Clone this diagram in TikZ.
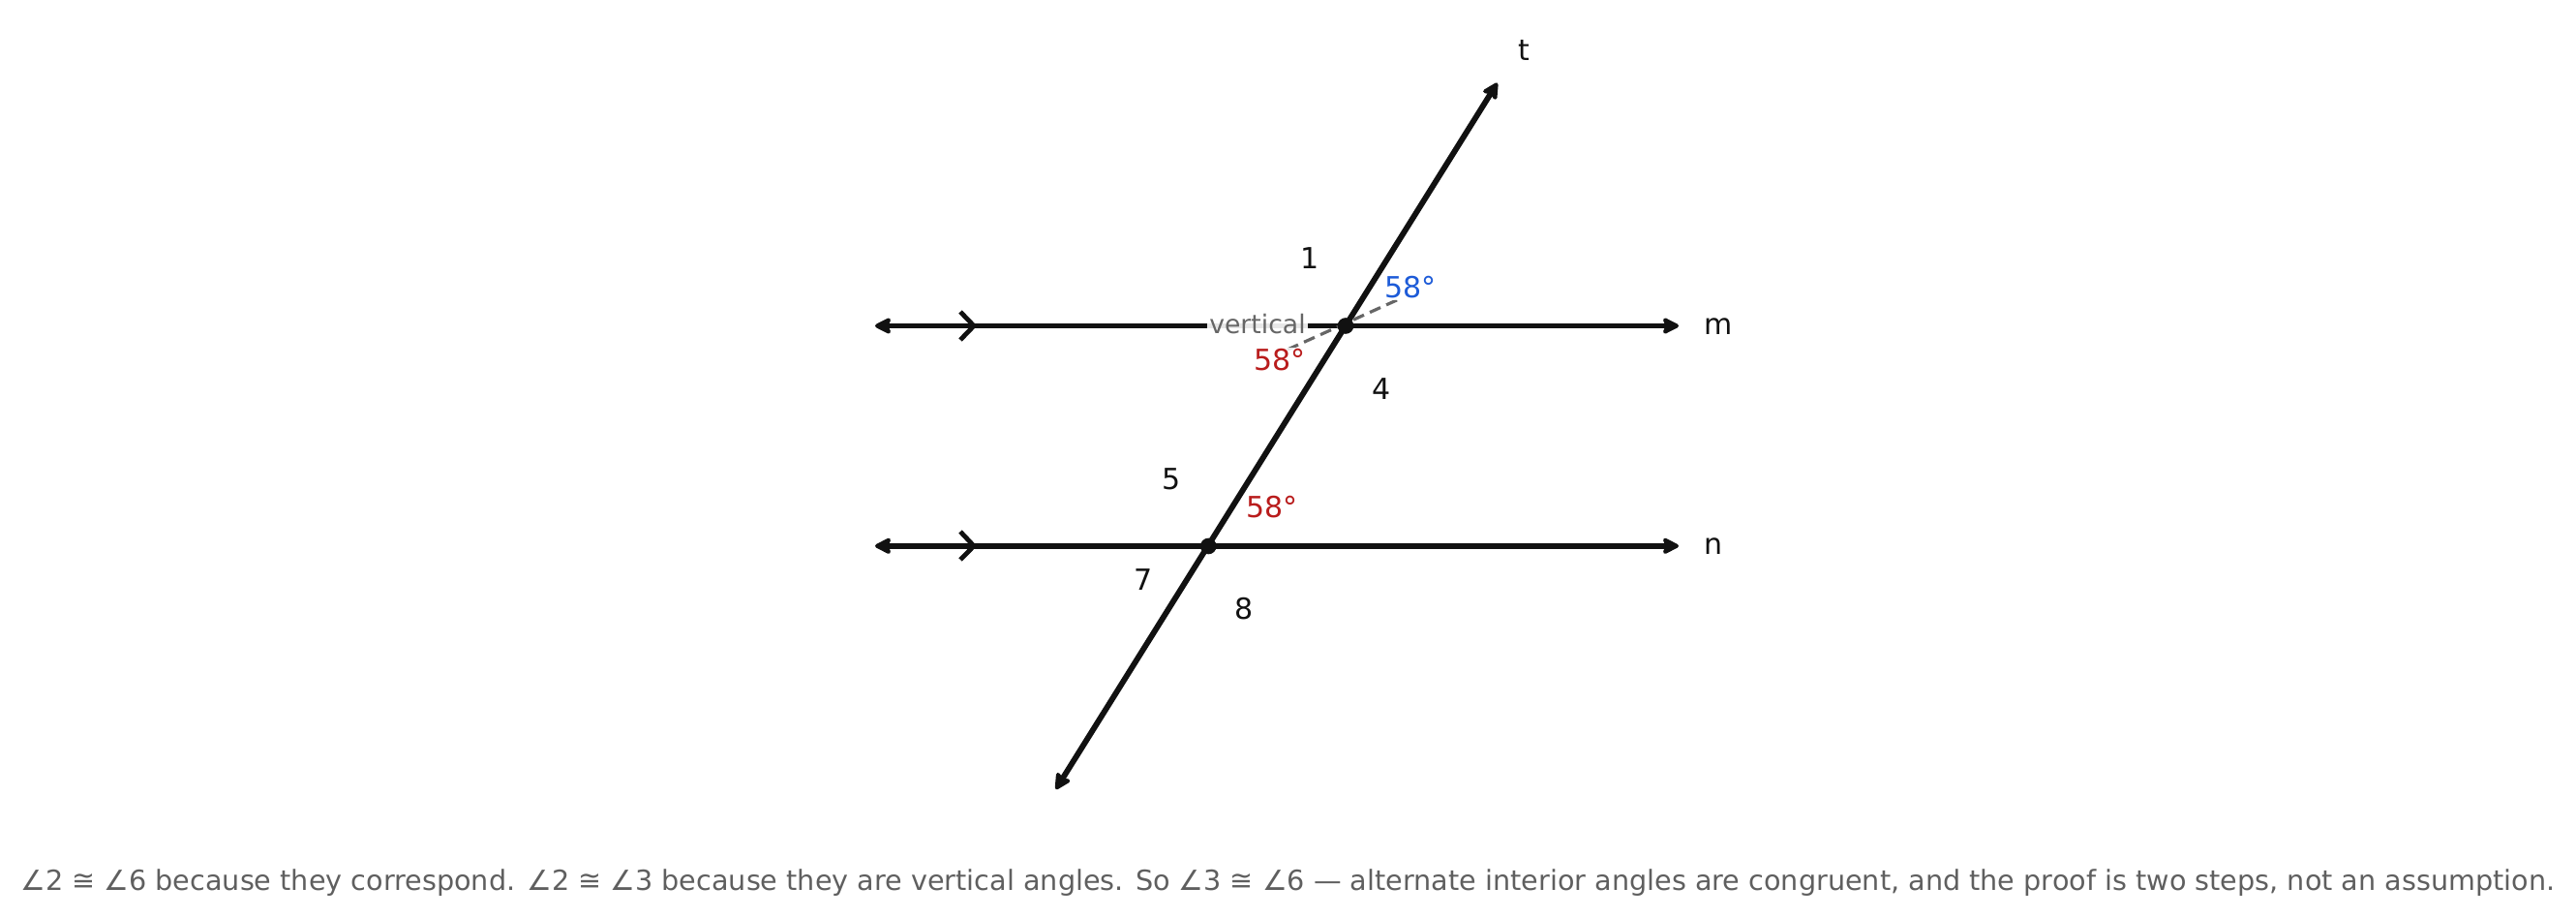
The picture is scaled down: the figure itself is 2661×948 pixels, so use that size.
\documentclass[tikz,border=0pt]{standalone}
\usepackage{fontspec}
\setmainfont{DejaVu Sans}
\usetikzlibrary{arrows.meta}
\definecolor{ink}{HTML}{111111}
\definecolor{capgray}{HTML}{5F5F5F}
\definecolor{vgray}{HTML}{666666}
\definecolor{angred}{HTML}{B91C1C}
\definecolor{angblue}{HTML}{1D5BD8}
\tikzset{
  ray/.style={draw=ink, line width=4.4pt, {Stealth[length=15pt,width=15pt,inset=3pt,round]}-{Stealth[length=15pt,width=15pt,inset=3pt,round]}},
  chev/.style={draw=ink, line width=3.6pt},
  numlab/.style={text=ink, font=\fontsize{22.5pt}{27pt}\selectfont, inner sep=1pt},
  anglab/.style={font=\fontsize{22.5pt}{27pt}\selectfont, inner sep=1.5pt, fill=white, fill opacity=0.85, text opacity=1},
  vlab/.style={text=vgray, font=\fontsize{20pt}{24pt}\selectfont, inner sep=2pt, fill=white, fill opacity=0.9, text opacity=1},
  dot/.style={circle, fill=ink, inner sep=0pt, minimum size=12.5pt}
}
\begin{document}
\begin{tikzpicture}[x=0.75pt,y=-0.75pt]
\useasboundingbox (0,0) rectangle (2661,948);
% key points
\coordinate (P) at (1390,336.5);
\coordinate (Q) at (1248.3,564);
\coordinate (mL) at (904,336.5);
\coordinate (mR) at (1734,336.5);
\coordinate (nL) at (904,563.8);
\coordinate (nR) at (1734,563.8);
\coordinate (tT) at (1546.7,85.7);
\coordinate (tB) at (1090.7,815);
% lines
\draw[ray] (mL) -- (mR);
\draw[ray] (nL) -- (nR);
\draw[ray] (tB) -- (tT);
% parallel marks
\coordinate (cm1) at (992,322);
\coordinate (cm2) at (1006,336.5);
\coordinate (cm3) at (992,351);
\coordinate (cn1) at (992,549);
\coordinate (cn2) at (1006,563.8);
\coordinate (cn3) at (992,578);
\draw[chev] (cm1) -- (cm2) -- (cm3);
\draw[chev] (cn1) -- (cn2) -- (cn3);
% dashed link between angle labels
\coordinate (dA) at (1330,361);
\coordinate (dB) at (1445,309);
\draw[draw=vgray, line width=2.4pt, dash pattern=on 9pt off 5pt] (dA) -- (dB);
% intersection dots
\node[dot] (dP) at (P) {};
\node[dot] (dQ) at (Q) {};
% labels
\node[vlab] (vert) at (1299,335) {vertical};
\node[anglab, text=angblue] (a2) at (1456.7,297) {58°};
\node[anglab, text=angred] (a3) at (1322,372) {58°};
\node[anglab, text=angred] (a6) at (1314,524) {58°};
\node[numlab] (n1) at (1352.7,267) {1};
\node[numlab] (n4) at (1427,402) {4};
\node[numlab] (n5) at (1210,495) {5};
\node[numlab] (n7) at (1181,599) {7};
\node[numlab] (n8) at (1285,629) {8};
\node[numlab] (lt) at (1574,52) {t};
\node[numlab] (lm) at (1775,337) {m};
\node[numlab] (ln) at (1770,564) {n};
% caption
\node[text=capgray, font=\fontsize{21.5pt}{25pt}\selectfont, inner sep=0pt] (cap) at (1330.5,912) {∠2 ≅ ∠6 because they correspond. ∠2 ≅ ∠3 because they are vertical angles. So ∠3 ≅ ∠6 — alternate interior angles are congruent, and the proof is two steps, not an assumption.};
\end{tikzpicture}
\end{document}
